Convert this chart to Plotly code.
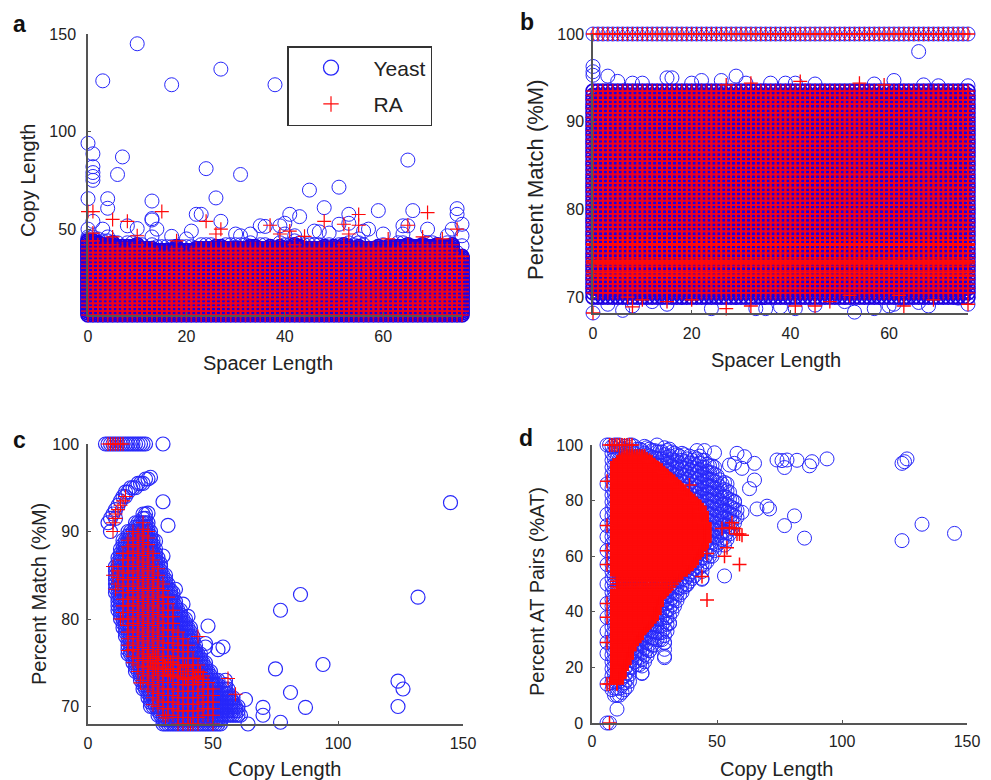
import plotly.graph_objects as go

W, H = 991, 780
BLUE = "rgb(40,40,250)"
DENSE_BLUE = "rgb(30,0,225)"
RED = "rgb(255,10,10)"
GRID_RED = "rgba(240,0,30,0.85)"
AXIS = "#555555"
TEXT = "#222222"
FONT = "Liberation Sans"

# ---------- shared categories ----------
spacer_values = [0,1,2,3,4,5,6,7,8,9,10,11,12,13,14,15,16,17,18,19,20,21,22,23,24,25,26,27,28,29,30,31,32,33,34,35,36,37,38,
                 39,40,41,42,43,44,45,46,47,48,49,50,51,52,53,54,55,56,57,58,59,60,61,62,63,64,65,66,67,68,69,70,71,72,73,74,75,76]

# ---------- panel a: top of the filled block per spacer length ----------
a_yeast_top = [46,46,45,44,44,43,43,42,43,43,43,42,41,42,41,41,42,42,41,41,42,42,41,42,42,42,41,42,42,43,43,43,42,43,42,43,
               42,42,41,43,43,43,44,43,42,42,42,42,42,42,42,42,43,43,43,43,42,41,41,42,41,41,42,43,43,43,42,42,43,43,43,43,42,43,42,38,37]
a_ra_top = [44,44,43,42,42,43,41,41,41,41,42,40,40,40,39,39,39,39,41,39,39,39,40,40,40,40,41,41,40,40,40,40,40,41,41,40,
            40,41,40,41,40,40,42,41,40,40,40,40,41,40,41,40,42,41,40,41,40,40,40,41,40,41,41,41,41,42,41,41,42,41,41,42,41,41,42,36,36]
a_yeast_x = [10,3,17,27,38,0,1,1,1,1,1,7,6,24,31,65,0,4,4,13,13,13,14,26,45,51,48,41,43,59,66,75,75,53,22,23,27,51,53,35,36,40,39,64,65,76,
             57,56,46,47,49,21,10,8,17,30,31,33,60,69,73,76,74,76,1,3,0,0,4,13,20,40,42,55,60,64]
a_yeast_y = [145,126,124,132,124,94,88.6,82,79,77,75,87,78,81,78,85.4,65.6,65.6,60.7,64.4,55.4,54.7,50,66,70,71.5,61,57.6,56.4,59.5,59.5,60.5,
             57.6,57.6,57.6,57.6,54,52.5,53,51.7,51.4,53,51.7,51.7,51.7,52.5,50,49,49,48.6,48,49,50.3,51.7,46.3,47.5,46.6,47.5,47.5,50,46.6,46.6,50,
             41.5,54,50,50,45,46,46,45,47.5,46.6,45,42,47.5]
a_ra_x = [0,1,5,8,15,24,27,37,48,52,55,55,65,69,75,41,39,44,26,10,5,18,53,1,61,68,72,76]
a_ra_y = [59,59,55,54,59,54,50,52,54,52.5,57.5,52,52,58.5,50,49,47.5,46.3,47.5,46.6,46,44,47.5,48,45,46,45,36]

# ---------- panel b ----------
b_levels_yeast = [70,70.5,71,71.5,72,72.5,73,73.5,74,74.5,75,75.5,76,76.5,77,77.5,78,78.5,79,79.5,80,80.5,81,81.5,82,82.5,83,83.5,
                  84,84.5,85,85.5,86,86.5,87,87.5,88,88.5,89,89.5,90,90.5,91,91.5,92,92.5,93,93.5]
b_levels_ra = [70.5,71,71.5,72,72.5,73,73.5,74,74.5,75,75.5,76,76.5,77,77.5,78,78.5,79,79.5,80,80.5,81,81.5,
               82,82.5,83,83.5,84,84.5,85,85.5,86,86.5,87,87.5,88,88.5,89,89.5,90,90.5,91,91.5,92,92.5,93,93.5]
b_top_row = [100]
b_bands_ra = [72.4,72.8,73.8,74,74.2,75.9,76,76.1]
b_yeast_x = [0,0,0,3,15,16,29,22,26,5,8,10,20,31,36,39,41,45,57,61,67,70,76,66,0,27,24,33,35,38,41,45,51,53,57,60,63,68,76,74,3,6,8,12,15,18,29,61,66,51]
b_yeast_y = [96.3,95.7,95.3,95.2,95,95,95.2,94.7,94.7,94.6,94.4,94.4,94.4,94.4,94.4,94.4,94.4,94.3,94.3,94.7,94.2,94.1,94.1,98,68.2,68.1,68.7,
             68.7,68.7,68.9,68.7,69.1,69.5,68.3,68.7,69,69.9,69,69.2,69.9,69.2,68.5,69,69.5,69.2,70,70,69.2,69.4,70]
b_ra_x = [32,42,54,59,27,0,4,8,10,15,20,27,32,41,45,48,54,63,69,76,52,7,62]
b_ra_y = [94.4,94.6,94.4,94.2,94.2,68.2,68.1,68.9,69.7,69.5,69.7,68.7,69,69,69,69.5,68.1,69,69.7,69.2,70.2,70,70.2]

# ---------- panel c: column bounds of the filled band ----------
c_col_x = [11,12,13,14,15,16,17,18,19,20,21,22,23,24,25,26,27,28,29,30,31,32,33,34,35,36,37,38,39,40,41,42,43,44,45,46,47,48,49,50,51,52,53,54,55,56,57,58,59,60,61]
c_yeast_low = [83,81,80,79,78,76,76,75,74,74,73,72,72,71,70,70,70,69,69,68,68,68,68,68,68,68,68,68,68,68,68,68,68,68,68,68,68,68,68,68,68,68,68,69,69,69,69,69,69,69,69]
c_yeast_high = [86,87,88,89,89,90,90,90,91,91,91,92,92,91,90,89,88,87,86,85,85,84,83,83,82,81,81,80,80,79,79,78,77,76,76,75,75,74,74,73,73,73,72,72,73,72,71,71,70,70,69]
c_ra_col_x = [12,14,16,18,20,22,24,26,28,30,32,34,36,38,40,42,44,46,48,50]
c_ra_low = [84,80,77,75,74,73,72,71,70,69,69,69,68,68,68,68,68,69,69,69]
c_ra_high = [86,88,89,90,90,91,90,88,86,84,83,81,79,78,77,76,75,74,73,72]
c_band_x = [22,25,28,31,34,37,40,43,46,24,27,30,33,36,39,42,45,24,27,30,33,36,39,42]
c_band_y = [75.5,75.2,74.9,74.6,74.3,74,73.7,73.4,73.1,76,75.7,75.4,75.1,74.8,74.5,74.2,73.9,74.6,74.3,74,73.7,73.4,73.1,72.8]
c_yeast_x = [145,30,32,25,132,85,77,48,75,94,124,126,124,81,87,70,70,77,64,63,54,52,47,47,40,38,35,33,30,29,27,25,24,30,
             8,9,9,10,11,11,12,13,14,15,15,16,17,18,19,20,21,22,23,24,
             7,8,9,10,11,12,13,14,15,16,17,18,19,20,21,22,23]
c_yeast_y = [93.3,93.4,90.7,96.2,82.5,82.8,81,79.2,74.3,74.8,72.9,72,70,71.6,69.9,69.9,69,68.2,68,70.8,76.8,76.5,77.2,76.8,80.3,81.7,83.4,83.3,87.2,86.3,88.9,88.9,92.1,100,
             91,90,91.5,92,92.5,91.5,93,93.5,94,94,94.5,94.5,95,95,95,95.5,95.5,95.5,96,96,
             100,100,100,100,100,100,100,100,100,100,100,100,100,100,100,100,100]
c_ra_x = [10,10,11,11,12,13,14,15,8,9,10,11,12,13,14,44,59,56,52,50,41,31,26,21,16,13,11,10,10]
c_ra_y = [90,91,91.5,92,92.5,93,93.5,94,100,100,100,100,100,100,100,78,71.4,73.2,67.8,68,68,68.7,70.2,72.7,76.4,80,83.4,85,86]

# ---------- panel d: column bounds of the filled wedge ----------
d_col_x = [8,9,10,11,12,13,14,15,16,17,18,19,20,21,22,23,24,25,26,27,28,29,30,31,32,33,34,35,36,37,38,39,40,41,42,43,44,45,46,47,48,49,50,51,52,53,54,55,56,57,58]
d_yeast_low = [12,10,10,10,11,12,13,15,20,22,21,21,18,22,24,26,28,28,30,30,30,24,33,36,40,42,44,46,47,49,50,51,52,53,55,56,52,57,58,60,60,62,64,65,66,64,66,68,70,72,74]
d_yeast_high = [100,100,100,100,100,100,100,100,100,100,100,100,100,100,100,100,100,99,100,99,99,100,99,99,98,98,97,97,97,97,97,96,96,96,97,96,95,95,94,94,93,92,90,88,88,87,86,85,82,80,78]
d_ra_col_x = [10,11,12,13,14,15,16,17,18,19,20,21,22,23,24,25,26,27,28,29,30,31,32,33,34,35,36,37,38,39,40,41,42,43,44,45]
d_ra_low = [14,16,19,21,23,26,28,29,30,32,33,34,35,36,37,39,42,45,46,47,48,49,50,51,52,53,54,55,55,56,57,59,60,62,63,65]
d_ra_high = [94,95,95,96,96,96,96,96,96,96,96,96,95,94.5,94,93,92,91.5,91,90,89,88,87.5,87,86,85,84,83,82,81,80.5,80,79,78,76,72]
d_streak_low = 48
d_streak_high = 53
d_yeast_x = [145,132,124,124,125,126,94,88,87,82,78,76,74,77,81,77,85,70,71,66,65,63,65,61,58,49,45,42,60,57,55,60,57,53,38,44,31,29,29,23,20,10,
             6,6,6,6,6,6,6,6,6,6,6,6,6,6,6,7,7]
d_yeast_y = [68.2,71.5,65.6,93.4,94,95,95,94,92.5,94.5,94.6,94.4,94.6,91.9,74.5,71,66.5,78,77,77,87.4,84.3,93.4,95.8,97,97.2,98,98,91.6,93.4,92.8,75.8,79.7,52.9,49.7,51.7,35.8,28.8,23.5,26,17.8,5,
             100,86,75,71,67,62,57,50,43,38,33,29,25,14,0,0,100]
d_ra_x = [46,59,59,58,55,57,56,39,44,54,53,46,60,52,6,6,6,6,6,6,6,6,7,7,7,8,9,10,11,12,13,14,15,16]
d_ra_y = [44.2,57,68,68,70.3,70,72,85.6,52.7,63,60,61,67.5,70,87,71,62,57,43,38,29,14,0,100,14,100,100,100,100,100,100,100,100,100]

# ---------- expansion of the read column bounds into marks ----------
def expand_rows(xs, levels):
    return [x for _ in levels for x in xs], [y for y in levels for _ in xs]

def expand_tops(xs, tops, bottom, step):
    px, py = [], []
    for x, top in zip(xs, tops):
        y = bottom
        while y <= top:
            px.append(x); py.append(y); y += step
    return px, py

def expand_cols(xs, lows, highs, step):
    px, py = [], []
    for x, lo, hi in zip(xs, lows, highs):
        y = lo
        while y <= hi:
            px.append(x); py.append(y); y += step
    return px, py

fig = go.Figure()

def add(panel, x, y, kind, lw=None, color=None):
    sfx = "" if panel == 1 else str(panel)
    if kind == "yeast":
        c = color or BLUE
        marker = dict(symbol="circle-open", size=14, line=dict(color=c, width=lw or 1.2), color=c)
        name = "Yeast"
    else:
        c = color or RED
        marker = dict(symbol="cross-thin", size=10, line=dict(color=c, width=lw or 1.2), color=c)
        name = "RA"
    fig.add_trace(go.Scatter(x=x, y=y, mode="markers", marker=marker, name=name, showlegend=False,
                             cliponaxis=False, hoverinfo="skip", xaxis="x"+sfx, yaxis="y"+sfx))

# a
fx, fy = expand_cols(spacer_values, a_ra_top, a_yeast_top, 2)
add(1, a_yeast_x + fx, a_yeast_y + fy, "yeast", lw=1)
ax, ay = expand_tops(spacer_values, a_ra_top, 6, 1)
add(1, ax, ay, "yeast", lw=1.7, color=DENSE_BLUE)
rx, ry = expand_tops(spacer_values, a_ra_top, 6, 2)
add(1, rx, ry, "ra", color=GRID_RED, lw=1.7)
add(1, a_ra_x, a_ra_y, "ra")
# b
tx, ty = expand_rows(spacer_values, b_top_row)
add(2, tx + b_yeast_x, ty + b_yeast_y, "yeast", lw=1)
bx, by = expand_rows(spacer_values, b_levels_yeast)
add(2, bx, by, "yeast", lw=1.7, color=DENSE_BLUE)
bx, by = expand_rows(spacer_values, b_levels_ra)
add(2, bx, by, "ra", color=GRID_RED, lw=1.7)
bx, by = expand_rows(spacer_values, b_bands_ra)
add(2, bx + tx + b_ra_x, by + ty + b_ra_y, "ra", lw=1.3)
# c
cx, cy = expand_cols(c_col_x, c_yeast_low, c_yeast_high, 0.5)
add(3, cx + c_yeast_x, cy + c_yeast_y, "yeast")
cx, cy = expand_cols(c_ra_col_x, c_ra_low, c_ra_high, 0.75)
add(3, cx + c_ra_x + c_band_x, cy + c_ra_y + c_band_y, "ra", lw=1.1)
# d
dx, dy = expand_cols(d_col_x, d_yeast_low, d_yeast_high, 2.5)
add(4, dx + d_yeast_x, dy + d_yeast_y, "yeast", lw=1)
dx, dy = expand_cols(d_ra_col_x, d_ra_low, d_ra_high, 0.25)
kept = [(px, py) for px, py in zip(dx, dy) if not (d_streak_low <= py <= d_streak_high and py % 1)]
add(4, [p[0] for p in kept] + d_ra_x, [p[1] for p in kept] + d_ra_y, "ra", lw=1.5)

# legend keys
fig.add_trace(go.Scatter(x=[None], y=[None], mode="markers", name="Yeast", legendgroup="Yeast", showlegend=True,
                         marker=dict(symbol="circle-open", size=15, line=dict(color=BLUE, width=1.3), color=BLUE)))
fig.add_trace(go.Scatter(x=[None], y=[None], mode="markers", name="RA", legendgroup="RA", showlegend=True,
                         marker=dict(symbol="cross-thin", size=11, line=dict(color=RED, width=1.2), color=RED)))

def dom(a, b, total):
    return [a / total, b / total]

def vdom(top, bottom):
    return [1 - bottom / H, 1 - top / H]

def xax(l, r, rng, ticks, standoff):
    return dict(domain=dom(l, r, W), range=rng, tickvals=ticks, ticks="inside", ticklen=3, tickcolor=AXIS,
                showgrid=False, zeroline=False, showline=True, linecolor=AXIS, linewidth=1.5,
                tickfont=dict(family=FONT, size=16, color=TEXT), ticklabelstandoff=standoff)

def yax(t, b, rng, ticks, standoff):
    return dict(domain=vdom(t, b), range=rng, tickvals=ticks, ticks="inside", ticklen=3, tickcolor=AXIS,
                showgrid=False, zeroline=False, showline=True, linecolor=AXIS, linewidth=1.5,
                tickfont=dict(family=FONT, size=16, color=TEXT), ticklabelstandoff=standoff)

layout = dict(
    width=W, height=H, margin=dict(l=0, r=0, t=0, b=0, autoexpand=False), paper_bgcolor="white", plot_bgcolor="white",
    xaxis=xax(88, 462, [0, 76], [0, 20, 40, 60], 6),
    yaxis=dict(yax(34, 315, [6, 150], [50, 100, 150], 7), anchor="x"),
    xaxis2=dict(xax(593, 968, [0, 76], [0, 20, 40, 60], 5), anchor="y2"),
    yaxis2=dict(yax(34, 313, [68.2, 100], [70, 80, 90, 100], 4), anchor="x2"),
    xaxis3=dict(xax(88, 463, [0, 150], [0, 50, 100, 150], 4), anchor="y3"),
    yaxis3=dict(yax(444, 724, [68, 100], [70, 80, 90, 100], 4), anchor="x3"),
    xaxis4=dict(xax(592, 967, [0, 150], [0, 50, 100, 150], 3), anchor="y4"),
    yaxis4=dict(yax(445, 723, [0, 100], [0, 20, 40, 60, 80, 100], 4), anchor="x4"),
    showlegend=True,
    legend=dict(x=287 / W, y=1 - 46 / H, xanchor="left", yanchor="top", bgcolor="white", bordercolor="#333333",
                borderwidth=1.5, font=dict(family=FONT, size=21, color=TEXT), tracegroupgap=6,
                itemwidth=75, traceorder="grouped", entrywidth=142, entrywidthmode="pixels"),
)
fig.update_layout(**layout)

def label(text, x, y, size=20, angle=0, bold=False):
    fig.add_annotation(text="<b>%s</b>" % text if bold else text, x=x / W, y=1 - y / H, xref="paper", yref="paper",
                       xanchor="center", yanchor="middle", showarrow=False, textangle=angle,
                       font=dict(family=FONT, size=size, color="#111111" if bold else TEXT))

for t, x, y in [("a", 19, 24), ("b", 527, 22), ("c", 19, 440), ("d", 526, 438)]:
    label(t, x, y, size=23, bold=True)
for t, x, y in [("Spacer Length", 268, 363), ("Spacer Length", 776, 360), ("Copy Length", 284, 769), ("Copy Length", 776, 769)]:
    label(t, x, y)
label("Copy Length", 28, 181, angle=-90)
label("Percent Match (%M)", 535, 180, size=22, angle=-90)
label("Percent Match (%M)", 39, 594, angle=-90)
label("Percent AT Pairs (%AT)", 537, 592, angle=-90)

fig.write_html("out.html", post_script="document.body.style.margin='0';", config=dict(displayModeBar=False))
